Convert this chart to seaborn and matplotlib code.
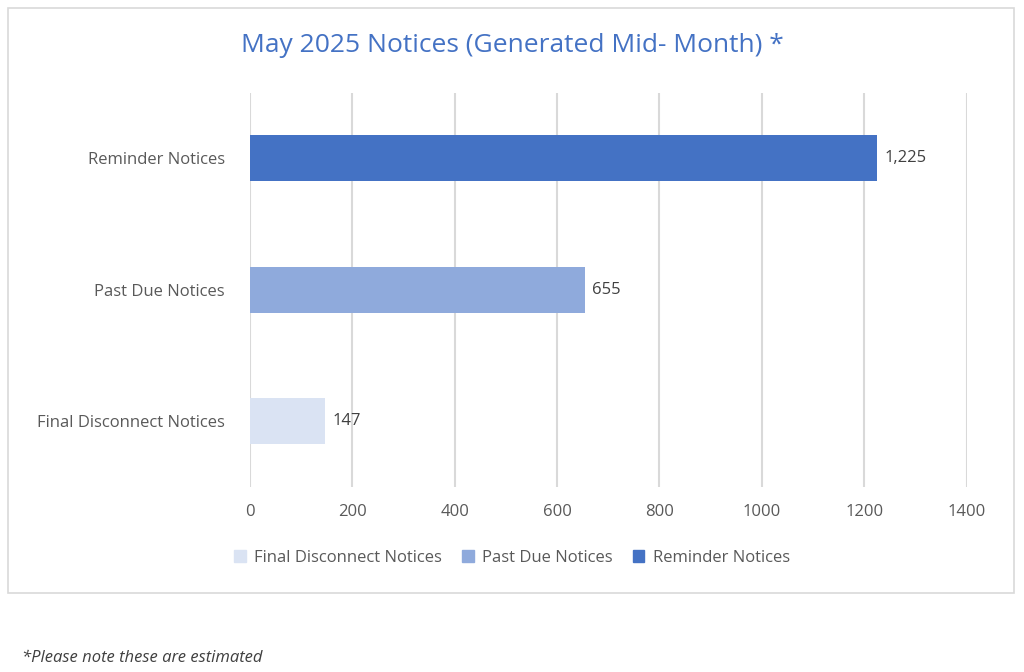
import matplotlib
matplotlib.use("Agg")
import matplotlib.pyplot as plt
import seaborn as sns
import pandas as pd
from matplotlib.patches import Patch, Rectangle

categories = ["Reminder Notices", "Past Due Notices", "Final Disconnect Notices"]
values = [1225, 655, 147]
labels = ["1,225", "655", "147"]
colors = ["#4472C4", "#8FAADC", "#DAE3F3"]
xticks = [0, 200, 400, 600, 800, 1000, 1200, 1400]

plt.rcParams["font.family"] = "Open Sans"
txt = "#595959"
df = pd.DataFrame({"cat": categories, "val": values})

fig = plt.figure(figsize=(10.24, 6.72), dpi=100)
fig.patches.append(Rectangle((8/1024, 1-593/672), 1006/1024, 585/672, transform=fig.transFigure,
                             fill=False, edgecolor="#D9D9D9", lw=1.2))
ax = fig.add_axes([0.244, 0.275, 0.700, 0.587])
sns.barplot(data=df, y="cat", x="val", hue="cat", palette=colors, orient="h",
            width=0.35, ax=ax, legend=False, saturation=1)
ax.set_xlim(0, 1400)
ax.set_ylim(2.5, -0.5)
ax.set_xticks(xticks)
ax.set_xticklabels([str(t) for t in xticks], fontsize=12, color=txt)
ax.tick_params(axis="y", labelsize=12, labelcolor=txt, length=0, pad=18)
ax.tick_params(axis="x", length=0, pad=12)
ax.set_xlabel(""); ax.set_ylabel("")
ax.grid(axis="x", color="#D9D9D9", lw=1.5)
ax.set_axisbelow(True)
for s in ax.spines.values():
    s.set_visible(False)
for i, (v, l) in enumerate(zip(values, labels)):
    ax.text(v + 14, i, l, va="center", ha="left", fontsize=12, color="#404040")

fig.text(0.5, 1-45/672, "May 2025 Notices (Generated Mid- Month) *", ha="center", va="center",
         fontsize=19, color="#4472C4")
handles = [Patch(color=colors[i], label=categories[i]) for i in [2, 1, 0]]
fig.legend(handles=handles, loc="center", bbox_to_anchor=(0.5, 1-558/672), ncol=3, frameon=False,
           fontsize=12, labelcolor=txt, handlelength=0.7, handleheight=0.7, columnspacing=1.2, handletextpad=0.5)
fig.text(22/1024, 1-658/672, "*Please note these are estimated", ha="left", va="center",
         fontsize=12, style="italic", color="#404040")
fig.savefig("out.png", dpi=100)
